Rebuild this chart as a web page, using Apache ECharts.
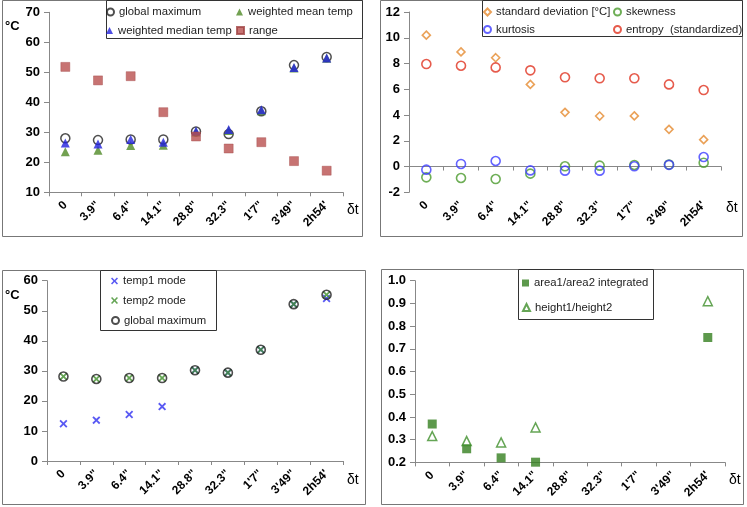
<!DOCTYPE html>
<html><head><meta charset="utf-8">
<script src="https://cdn.jsdelivr.net/npm/echarts@6/dist/echarts.min.js"></script>
<style>html,body{margin:0;padding:0;background:#fff;}#c{width:747px;height:507px;}</style>
</head><body><div id="c"></div>
<script>
var categories = ['0', '3.9"', '6.4"', '14.1"', '28.8"', '32.3"', '1\'7"', '3\'49"', '2h54\''];

// Panel 1 (°C)
var globalMax = [28.0, 27.4, 27.6, 27.6, 30.3, 29.4, 37.0, 52.4, 55.1];
var weightedMean = [23.5, 24.0, 25.6, 25.7, 30.1, 30.6, 37.2, 51.4, 54.7];
var weightedMedian = [26.4, 26.1, 27.6, 26.7, 30.4, 30.9, 37.5, 51.6, 54.8];
var rangeVals = [51.8, 47.3, 48.7, 36.7, 28.6, 24.6, 26.7, 20.4, 17.2];

// Panel 2
var stdDev = [10.2, 8.9, 8.45, 6.38, 4.21, 3.92, 3.93, 2.89, 2.09];
var skewness = [-0.84, -0.89, -0.97, -0.55, 0.02, 0.07, 0.12, 0.15, 0.3];
var kurtosis = [-0.24, 0.2, 0.43, -0.3, -0.32, -0.32, 0.02, 0.13, 0.74];
var entropy = [7.96, 7.83, 7.7, 7.47, 6.93, 6.85, 6.85, 6.38, 5.94];

// Panel 3
var temp1Mode = [12.4, 13.6, 15.5, 18.1, 30.2, 29.4, 37.0, 52.2, 54.1];
var temp2Mode = [28.1, 27.3, 27.6, 27.6, 30.2, 29.4, 37.0, 52.2, 55.3];
var globalMax3 = [28.1, 27.3, 27.6, 27.6, 30.2, 29.4, 37.0, 52.2, 55.3];

// Panel 4
var areaRatio = [0.369, 0.26, 0.22, 0.201, null, null, null, null, 0.75];
var heightRatio = [0.316, 0.294, 0.288, 0.354, null, null, null, null, 0.91];

var FONT = 'Liberation Sans, Arial, sans-serif';
var XMARK = 'path://M0,1.6L1.6,0L5,3.4L8.4,0L10,1.6L6.6,5L10,8.4L8.4,10L5,6.6L1.6,10L0,8.4L3.4,5Z';

var grids = [
  {left: 49, top: 12.3, width: 294, height: 180},
  {left: 409, top: 12, width: 312, height: 180.3},
  {left: 47, top: 280.7, width: 296, height: 180.3},
  {left: 415, top: 280.7, width: 310, height: 181.7}
];
var axisLineStyle = {lineStyle: {color: '#888', width: 1}};
function xAx(i) {
  return {type: 'category', gridIndex: i, data: categories, boundaryGap: true,
    axisLine: axisLineStyle, axisTick: {show: true, length: 4, lineStyle: {color: '#888'}},
    axisLabel: {rotate: 45, margin: 11, fontFamily: FONT, fontWeight: 'bold', fontSize: 12, color: '#000', interval: 0},
    splitLine: {show: false}};
}
function yAx(i, min, max, interval, fmt) {
  return {type: 'value', gridIndex: i, min: min, max: max, interval: interval,
    axisLine: {show: true, lineStyle: {color: '#888', width: 1}},
    axisTick: {show: true, length: 5, lineStyle: {color: '#888'}},
    axisLabel: {margin: 9, fontFamily: FONT, fontWeight: 'bold', fontSize: 13, color: '#000', formatter: fmt},
    splitLine: {show: false}};
}
function sc(name, gi, data, symbol, size, style, z) {
  return {type: 'scatter', name: name, xAxisIndex: gi, yAxisIndex: gi, data: data,
    symbol: symbol, symbolSize: size, itemStyle: style, z: z || 2, emphasis: {disabled: true}};
}
function leg(name, x, y, iconSize) {
  return {data: [name], left: x, top: y, padding: 0, itemWidth: iconSize || 7, itemHeight: iconSize || 7,
    selectedMode: false, textStyle: {fontFamily: FONT, fontSize: 11.3, color: '#222'}};
}

var option = {
  animation: false,
  backgroundColor: '#fff',
  grid: grids,
  xAxis: [xAx(0), xAx(1), xAx(2), xAx(3)],
  yAxis: [
    yAx(0, 10, 70, 10),
    yAx(1, -2, 12, 2),
    yAx(2, 0, 60, 10),
    yAx(3, 0.2, 1.0, 0.1, function (v) { return v.toFixed(1); })
  ],
  legend: [
    leg('global maximum', 106, 6.5),
    leg('weighted mean temp', 236, 6.5),
    leg('weighted median temp', 106, 25),
    leg('range', 236, 25),
    leg('standard deviation [°C]', 483, 6.5),
    leg('skewness', 613, 6.5),
    leg('kurtosis', 483, 24),
    leg('entropy  (standardized)', 613, 24),
    leg('temp1 mode', 111, 275.5),
    leg('temp2 mode', 111, 295),
    leg('global maximum ', 111, 315),
    leg('area1/area2 integrated', 522, 277.5),
    leg('height1/height2', 522, 302)
  ],
  series: [
    sc('global maximum', 0, globalMax, 'circle', 9, {color: 'rgba(255,255,255,0)', borderColor: '#222', borderWidth: 1.5}, 2),
    sc('weighted mean temp', 0, weightedMean, 'triangle', 9, {color: '#4f8a25'}, 3),
    sc('weighted median temp', 0, weightedMedian, 'triangle', 9, {color: '#2222dd'}, 4),
    sc('range', 0, rangeVals, 'rect', 9, {color: '#b9504f', borderColor: '#a04444', borderWidth: 0.5}, 5),

    sc('standard deviation [°C]', 1, stdDev, 'diamond', 8, {color: 'rgba(255,255,255,0)', borderColor: '#e58a2e', borderWidth: 1.6}, 2),
    sc('skewness', 1, skewness, 'circle', 9, {color: 'rgba(255,255,255,0)', borderColor: '#4a9a2c', borderWidth: 1.6}, 3),
    sc('kurtosis', 1, kurtosis, 'circle', 9, {color: 'rgba(255,255,255,0)', borderColor: '#3c3cff', borderWidth: 1.6}, 4),
    sc('entropy  (standardized)', 1, entropy, 'circle', 9, {color: 'rgba(255,255,255,0)', borderColor: '#e0321f', borderWidth: 1.6}, 5),

    sc('temp1 mode', 2, temp1Mode, XMARK, 8, {color: '#2f2ff0'}, 2),
    sc('temp2 mode', 2, temp2Mode, XMARK, 8, {color: '#3f8f2a'}, 3),
    sc('global maximum ', 2, globalMax3, 'circle', 9, {color: 'rgba(255,255,255,0)', borderColor: '#222', borderWidth: 1.6}, 4),

    sc('area1/area2 integrated', 3, areaRatio, 'rect', 9, {color: '#347f1f'}, 2),
    sc('height1/height2', 3, heightRatio, 'triangle', 9, {color: 'rgba(255,255,255,0)', borderColor: '#3f8f2a', borderWidth: 1.5}, 3)
  ],
  graphic: [
    {type: 'rect', shape: {x: 2.5, y: 0.5, width: 360, height: 236}, style: {fill: 'none', stroke: '#777', lineWidth: 1}, silent: true, z: -1},
    {type: 'rect', shape: {x: 380.5, y: 0.5, width: 362, height: 236}, style: {fill: 'none', stroke: '#777', lineWidth: 1}, silent: true, z: -1},
    {type: 'rect', shape: {x: 2.5, y: 270.5, width: 363, height: 234}, style: {fill: 'none', stroke: '#777', lineWidth: 1}, silent: true, z: -1},
    {type: 'rect', shape: {x: 381.5, y: 269.5, width: 362, height: 235}, style: {fill: 'none', stroke: '#777', lineWidth: 1}, silent: true, z: -1},
    {type: 'rect', shape: {x: 106.5, y: 0.5, width: 256, height: 38}, style: {fill: '#fff', stroke: '#333', lineWidth: 1}, silent: true, z: 0},
    {type: 'rect', shape: {x: 482.5, y: 0.5, width: 260, height: 36}, style: {fill: '#fff', stroke: '#333', lineWidth: 1}, silent: true, z: 0},
    {type: 'rect', shape: {x: 100.5, y: 270.5, width: 116, height: 60}, style: {fill: '#fff', stroke: '#333', lineWidth: 1}, silent: true, z: 0},
    {type: 'rect', shape: {x: 518.5, y: 269.5, width: 135, height: 50}, style: {fill: '#fff', stroke: '#333', lineWidth: 1}, silent: true, z: 0},
    {type: 'text', left: 5, top: 20, style: {text: '°C', font: 'bold 13px Liberation Sans, Arial, sans-serif', fill: '#000'}},
    {type: 'text', left: 5, top: 289, style: {text: '°C', font: 'bold 13px Liberation Sans, Arial, sans-serif', fill: '#000'}},
    {type: 'text', left: 347, top: 203, style: {text: 'δt', font: '14px Liberation Sans, Arial, sans-serif', fill: '#000'}},
    {type: 'text', left: 726, top: 201, style: {text: 'δt', font: '14px Liberation Sans, Arial, sans-serif', fill: '#000'}},
    {type: 'text', left: 347, top: 473, style: {text: 'δt', font: '14px Liberation Sans, Arial, sans-serif', fill: '#000'}},
    {type: 'text', left: 729, top: 473, style: {text: 'δt', font: '14px Liberation Sans, Arial, sans-serif', fill: '#000'}}
  ]
};
var chart = echarts.init(document.getElementById('c'), null, {renderer: 'canvas'});
chart.setOption(option);
</script>
</body></html>
